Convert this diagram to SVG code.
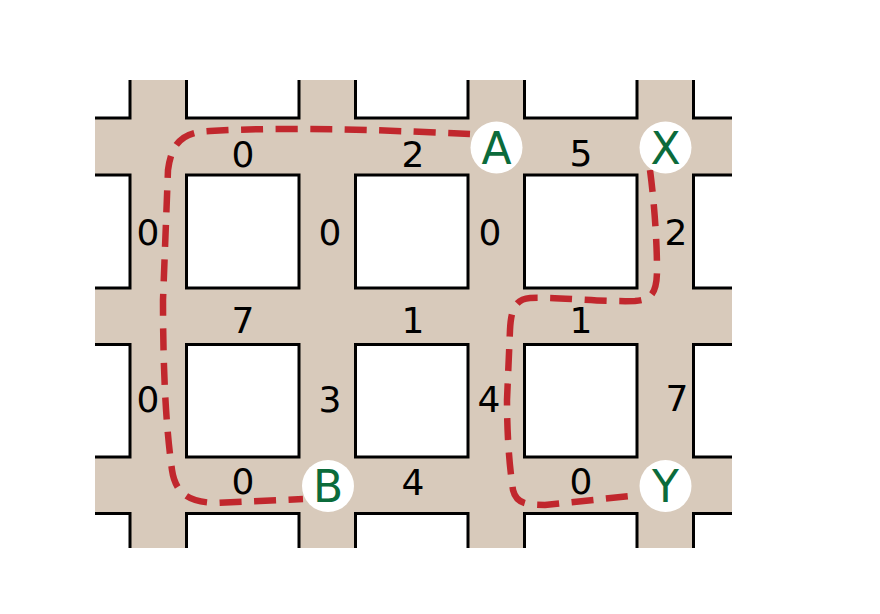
<svg xmlns="http://www.w3.org/2000/svg" width="880" height="614" viewBox="0 0 880 614">
<defs>
<clipPath id="area"><rect x="95" y="80" width="637" height="468"/></clipPath>
<style>
.blk{fill:#fff;stroke:#000;stroke-width:3}
.num{font-family:"DejaVu Sans",sans-serif;font-size:36px;fill:#000;text-anchor:middle}
.lbl{font-family:"DejaVu Sans",sans-serif;font-size:44px;fill:#0b6b3b;text-anchor:middle}
.route{fill:none;stroke:#c1272d;stroke-width:6.5;stroke-dasharray:22 12.5}
</style>
</defs>
<rect width="880" height="614" fill="#fff"/>
<g id="streets" clip-path="url(#area)">
<rect x="95" y="80" width="637" height="468" fill="#d8cabb"/>
<g id="blocks">
<rect class="blk" x="0" y="0" width="130" height="118"/>
<rect class="blk" x="186.5" y="0" width="112.5" height="118"/>
<rect class="blk" x="355.5" y="0" width="112.5" height="118"/>
<rect class="blk" x="524.5" y="0" width="112.5" height="118"/>
<rect class="blk" x="693.5" y="0" width="150" height="118"/>
<rect class="blk" x="0" y="175" width="130" height="113"/>
<rect class="blk" x="186.5" y="175" width="112.5" height="113"/>
<rect class="blk" x="355.5" y="175" width="112.5" height="113"/>
<rect class="blk" x="524.5" y="175" width="112.5" height="113"/>
<rect class="blk" x="693.5" y="175" width="150" height="113"/>
<rect class="blk" x="0" y="344.5" width="130" height="112.5"/>
<rect class="blk" x="186.5" y="344.5" width="112.5" height="112.5"/>
<rect class="blk" x="355.5" y="344.5" width="112.5" height="112.5"/>
<rect class="blk" x="524.5" y="344.5" width="112.5" height="112.5"/>
<rect class="blk" x="693.5" y="344.5" width="150" height="112.5"/>
<rect class="blk" x="0" y="513.5" width="130" height="100"/>
<rect class="blk" x="186.5" y="513.5" width="112.5" height="100"/>
<rect class="blk" x="355.5" y="513.5" width="112.5" height="100"/>
<rect class="blk" x="524.5" y="513.5" width="112.5" height="100"/>
<rect class="blk" x="693.5" y="513.5" width="150" height="100"/>
</g>
</g>
<g id="weights">
<text class="num" x="243" y="167">0</text>
<text class="num" x="413" y="167">2</text>
<text class="num" x="581" y="166">5</text>
<text class="num" x="148" y="245">0</text>
<text class="num" x="330" y="245">0</text>
<text class="num" x="490" y="245">0</text>
<text class="num" x="676" y="245">2</text>
<text class="num" x="243" y="333">7</text>
<text class="num" x="413" y="333">1</text>
<text class="num" x="581" y="333">1</text>
<text class="num" x="148" y="412">0</text>
<text class="num" x="330" y="412">3</text>
<text class="num" x="489" y="412">4</text>
<text class="num" x="677" y="411">7</text>
<text class="num" x="243" y="494">0</text>
<text class="num" x="413" y="495">4</text>
<text class="num" x="581" y="494">0</text>
</g>
<g id="connectors">
<path class="route" d="M 470,134 C 400,131 300,126 210,131 C 185,132 172,140 168,170 L 163,300 C 163,360 165,420 172,470 C 176,498 195,502 215,503 L 303,499"/>
<path class="route" d="M 650,170 C 654,200 657,240 657,270 C 657,295 650,300 635,301 C 600,302 560,297 530,298 C 515,299 511,310 510,330 L 507,400 C 507,440 510,470 513,490 C 516,503 525,505 545,505 L 640,495"/>
</g>
<g id="node-A"><circle cx="496.5" cy="147.5" r="26" fill="#fff"/><text class="lbl" x="496.5" y="163.5">A</text></g>
<g id="node-X"><circle cx="665.5" cy="147.5" r="26" fill="#fff"/><text class="lbl" x="665.5" y="163.5">X</text></g>
<g id="node-B"><circle cx="328" cy="486" r="26" fill="#fff"/><text class="lbl" x="328" y="502">B</text></g>
<g id="node-Y"><circle cx="665.5" cy="486" r="26" fill="#fff"/><text class="lbl" x="665.5" y="502">Y</text></g>
</svg>
